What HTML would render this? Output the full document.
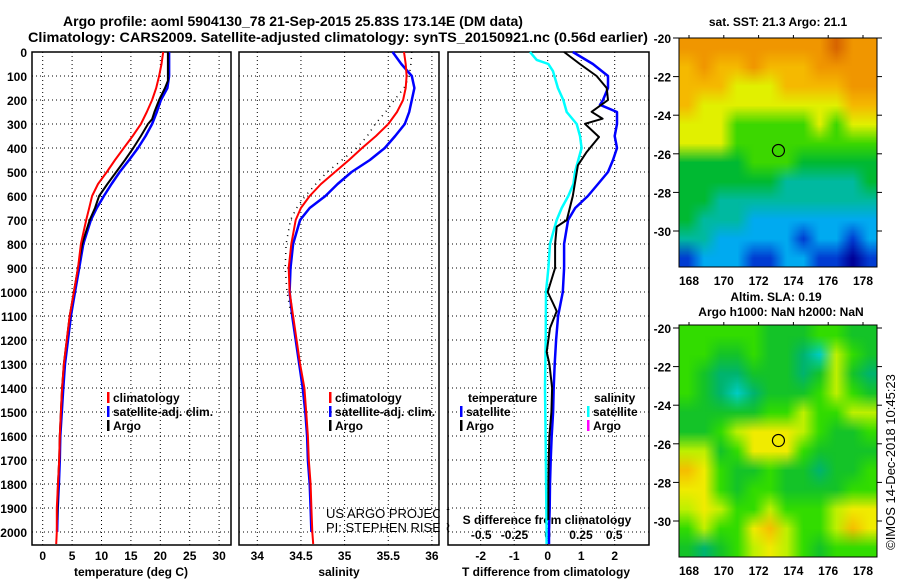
<!DOCTYPE html>
<html><head><meta charset="utf-8"><style>
body{margin:0;background:#fff;width:900px;height:580px;overflow:hidden;position:relative;font-family:"Liberation Sans",sans-serif}
canvas{position:absolute;image-rendering:auto}
svg{position:absolute;left:0;top:0}
text{font-family:"Liberation Sans",sans-serif;fill:#000}
</style></head><body>
<canvas id="sst" width="12" height="12" style="left:679px;top:38px;width:198px;height:229px"></canvas>
<canvas id="sla" width="12" height="12" style="left:679px;top:325px;width:198px;height:232px"></canvas>
<svg id="chart" width="900" height="580" font-weight="bold" font-size="12"></svg>
<script>
// ---- profile data ----
const depthClim = [0,50,100,150,200,250,300,350,400,450,500,550,600,650,700,800,900,1000,1100,1200,1300,1400,1500,1600,1700,1800,1900,2000,2050];
const tempClim = [20.5,20.2,19.8,19.3,18.6,17.7,16.7,15.3,13.8,12.3,10.9,9.4,8.4,7.9,7.4,6.5,6.0,5.3,4.6,4.1,3.6,3.3,3.1,2.9,2.8,2.6,2.4,2.4,2.3];
const depthSat = [0,50,100,150,200,250,300,350,400,450,500,550,600,650,700,800,900,1000,1100,1200,1300,1400,1500,1600,1700,1800,1900,2000];
const tempSat = [21.5,21.5,21.5,21.2,20.1,19.4,18.6,17.5,16.2,14.7,13.1,11.7,10.4,9.2,8.2,6.9,6.2,5.5,4.8,4.3,3.8,3.5,3.25,3.0,2.9,2.75,2.55,2.45];
const depthArgoT = [0,50,100,120,150,200,250,280,300,350,400,450,500,550,600,650,700,800,900,1000,1100,1200,1300,1400,1500,1600,1700,1800,1900,1950];
const tempArgo = [21.3,21.3,21.3,21.3,20.8,19.8,19.0,18.6,17.9,16.7,15.4,14.0,12.5,11.0,9.6,8.9,8.0,6.7,6.0,5.3,4.6,4.1,3.6,3.3,3.1,2.9,2.8,2.6,2.5,2.45];
const salClim = [35.68,35.70,35.71,35.70,35.67,35.60,35.50,35.36,35.20,35.05,34.89,34.73,34.60,34.50,34.44,34.39,34.36,34.37,34.41,34.45,34.49,34.54,34.56,34.58,34.59,34.61,34.62,34.63,34.64];
const salSat = [35.55,35.65,35.77,35.80,35.77,35.74,35.69,35.58,35.46,35.29,35.08,34.92,34.78,34.60,34.49,34.41,34.38,34.37,34.40,34.44,34.48,34.52,34.55,34.57,34.58,34.60,34.61,34.62];
const depthArgoS = [0,50,100,150,200,250,300,350,400,450,500,550,600,650,700,800,900,1000,1100];
const salArgo = [35.77,35.76,35.74,35.68,35.57,35.47,35.35,35.26,35.14,34.97,34.80,34.67,34.55,34.45,34.38,34.33,34.32,34.34,34.39];
const depthDT = [0,50,100,150,200,220,250,300,350,400,450,500,550,600,650,700,800,900,1000,1100,1200,1300,1400,1500,1600,1700,1800,1900,2000,2050];
const dTSat = [0.75,1.35,1.8,1.8,1.65,1.56,2.07,2.07,2.0,2.07,1.95,1.8,1.5,1.2,0.82,0.61,0.49,0.49,0.45,0.31,0.25,0.21,0.18,0.16,0.12,0.09,0.07,0.06,0.04,0.04];
const depthDTArgo = [0,50,100,150,200,249,278,299,354,417,472,600,700,728,800,900,1000,1050,1080,1150,1250,1300,1400,1500,1600,1700,1800,1950];
const dTArgo = [0.49,0.96,1.46,1.76,1.8,1.31,1.64,1.11,1.53,1.16,0.9,0.75,0.57,0.27,0.22,0.22,0.0,0.17,0.27,0.07,-0.03,0.05,0.13,0.11,0.05,0.03,0.02,0.02];
const depthDS = [0,33,50,80,150,200,250,300,350,400,450,500,550,600,650,700,750,800,900,1000,1200,1400,1600,1800,2000,2050];
const dSSat = [-0.133,-0.083,0.005,0.04,0.077,0.117,0.143,0.218,0.243,0.255,0.23,0.205,0.193,0.155,0.105,0.068,0.042,0.017,0.005,-0.013,-0.015,-0.02,-0.016,-0.012,-0.008,-0.008];
const depthTicks = [0,100,200,300,400,500,600,700,800,900,1000,1100,1200,1300,1400,1500,1600,1700,1800,1900,2000];
const tempTicks = [0,5,10,15,20,25,30];
const salTicks = [34,34.5,35,35.5,36];
const salTickLabels = ["34","34.5","35","35.5","36"];
const dTTicks = [-2,-1,0,1,2];
const dSTicks = [-0.5,-0.25,0,0.25,0.5];
const dSTickLabels = ["-0.5","-0.25","0","0.25","0.5"];
// ---- map data ----
const latTicks = [-20,-22,-24,-26,-28,-30];
const lonTicks = [168,170,172,174,176,178];
const argoLon = [173.14];
const argoLat = [-25.83];
const sstRows = [
[7,7,7,7,7,7,7,7,7,8,7,7],[6,7,6,6,7,6,6,6,7,7,7,7],[6,6,6,5,5,5,6,6,6,6,7,7],
[6,5,5,5,5,5,5,5,5,5,6,6],[5,5,5,4,4,4,4,4,5,4,5,5],[5,5,5,4,4,4,4,4,4,4,4,4],
[3,3,3,3,4,4,4,3,3,3,3,3],[3,3,3,3,3,3,2,2,2,2,2,3],[3,3,2,2,2,2,2,2,2,2,2,2],
[3,2,2,2,1,1,1,1,1,1,1,1],[2,2,1,1,1,1,1,0,1,1,0,1],[0,1,1,1,0,0,1,1,0,0,-1,0]];
const slaRows = [
[3,3,3,3,3,2,2,2,3,3,2,2],[3,3,2,2,3,2,2,1,0,4,3,2],[3,2,1,1,2,2,2,1,2,4,2,1],
[3,2,1,0,1,2,2,2,3,4,3,2],[2,2,2,2,2,3,3,4,3,3,4,4],[2,2,3,4,5,5,5,4,3,2,2,3],
[4,4,2,3,5,5,5,3,2,2,2,2],[6,5,3,2,2,3,2,2,1,2,2,3],[5,5,3,2,3,3,2,2,2,2,3,3],
[4,5,4,3,3,4,3,3,3,4,5,5],[3,4,3,3,5,6,4,3,3,4,6,5],[2,1,2,3,4,5,4,3,2,3,3,3]];

const sstColors = {"-1":[0,0,150],"0":[0,60,210],"1":[0,170,240],"2":[0,185,160],"3":[0,185,50],"4":[60,215,0],"5":[225,240,0],"6":[245,185,0],"7":[240,150,0],"8":[215,100,0]};
const slaColors = {"0":[0,205,195],"1":[0,180,110],"2":[20,195,40],"3":[50,220,0],"4":[190,240,0],"5":[240,235,0],"6":[245,190,0]};
function paint(id, rows, cols){
  const c=document.getElementById(id), ctx=c.getContext('2d'), img=ctx.createImageData(12,12);
  rows.forEach((r,j)=>r.forEach((v,i)=>{const col=cols[String(v)];const k=(j*12+i)*4;img.data[k]=col[0];img.data[k+1]=col[1];img.data[k+2]=col[2];img.data[k+3]=255;}));
  ctx.putImageData(img,0,0);
}
paint('sst',sstRows,sstColors);
paint('sla',slaRows,slaColors);

const NS='http://www.w3.org/2000/svg';
const svg=document.getElementById('chart');
function el(tag,attrs,parent){const e=document.createElementNS(NS,tag);for(const k in attrs)e.setAttribute(k,attrs[k]);(parent||svg).appendChild(e);return e;}
function txt(x,y,s,anchor,extra){const t=el('text',Object.assign({x:x,y:y,'text-anchor':anchor||'start'},extra||{}));t.textContent=s;return t;}

const TOP=52, BOT=545;
const yD=d=>TOP+0.24*d;
const xT=t=>42.7+5.88*t;
const xS=s=>257.3+87.3*(s-34);
const xDT=v=>547.7+33.5*v;
const xDS=v=>547.7+133*v;
const panels=[[32,231,tempTicks.map(xT)],[239,439,salTicks.map(xS)],[448,649,dTTicks.map(xDT)]];

let t=txt(293,26,"Argo profile: aoml 5904130_78 21-Sep-2015 25.83S 173.14E (DM data)",'middle',{'font-size':14});


t=txt(338,42,"Climatology: CARS2009. Satellite-adjusted climatology: synTS_20150921.nc (0.56d earlier)",'middle',{'font-size':14,textLength:620,lengthAdjust:'spacingAndGlyphs'});



panels.forEach((p,i)=>{
  const g=el('g',{});
  
  
  depthTicks.forEach(d=>{if(d>0){const l=el('line',{x1:p[0],x2:p[1],y1:yD(d),y2:yD(d),stroke:'#000','stroke-dasharray':'1,3'},g);}});
  p[2].forEach(x=>{const l=el('line',{x1:x,x2:x,y1:TOP,y2:BOT,stroke:'#000','stroke-dasharray':'1,3'},g);});
  const r=el('rect',{x:p[0],y:TOP,width:p[1]-p[0],height:BOT-TOP,fill:'none',stroke:'#000','stroke-width':1.5},g);
  
  
});
depthTicks.forEach(d=>{const l=txt(27,yD(d)+5,String(d),'end');});
tempTicks.forEach(v=>{const l=txt(xT(v),560,String(v),'middle');});
salTicks.forEach((v,i)=>{const l=txt(xS(v),560,salTickLabels[i],'middle');});
dTTicks.forEach(v=>{const l=txt(xDT(v),560,String(v),'middle');});
dSTicks.forEach((v,i)=>{const l=txt(xDS(v),539,dSTickLabels[i],'middle');});
t=txt(131,576,"temperature (deg C)",'middle');
t=txt(339,576,"salinity",'middle');
t=txt(546,576,"T difference from climatology",'middle');
t=txt(547,524,"S difference from climatology",'middle');

function series(xs,ds,fx,color,w,name,dash){
  const pts=xs.map((v,i)=>fx(v).toFixed(1)+','+yD(ds[i]).toFixed(1)).join(' ');
  const a={points:pts,fill:'none',stroke:color,'stroke-width':w,'stroke-linejoin':'round'};
  if(dash)a['stroke-dasharray']=dash;
  const l=el('polyline',a);
  
  
}
series(tempSat,depthSat,xT,'#0000ff',2.5,'temp-satellite-line');
series(tempArgo,depthArgoT,xT,'#000',2,'temp-argo-line');
series(tempClim,depthClim,xT,'#ff0000',2,'temp-climatology-line');
series(salSat,depthSat,xS,'#0000ff',2.5,'sal-satellite-line');
series(salArgo,depthArgoS,xS,'#000',1.5,'sal-argo-line','1,5');
series(salClim,depthClim,xS,'#ff0000',2,'sal-climatology-line');
series(dSSat,depthDS,xDS,'#00ffff',2.5,'sdiff-satellite-line');
series(dTSat,depthDT,xDT,'#0000ff',2.5,'tdiff-satellite-line');
series(dTArgo,depthDTArgo,xDT,'#000',2,'tdiff-argo-line');

function legend(x,y,color,label,name){
  const g=el('g',{});
  
  
  el('rect',{x:x,y:y-10,width:2.5,height:11,fill:color},g);
  const tt=el('text',{x:x+6,y:y},g);tt.textContent=label;
}
legend(107,402,'#ff0000','climatology','legend-climatology-temp');
legend(107,416,'#0000ff','satellite-adj. clim.','legend-satellite-temp');
legend(107,430,'#000','Argo','legend-argo-temp');
legend(329,402,'#ff0000','climatology','legend-climatology-sal');
legend(329,416,'#0000ff','satellite-adj. clim.','legend-satellite-sal');
legend(329,430,'#000','Argo','legend-argo-sal');
t=txt(468,402,"temperature");
legend(460,416,'#0000ff','satellite','legend-tdiff-satellite');
legend(460,430,'#000','Argo','legend-tdiff-argo');
t=txt(594,402,"salinity");
legend(587,416,'#00ffff','satellite','legend-sdiff-satellite');
legend(587,430,'#ff00ff','Argo','legend-sdiff-argo');
t=txt(326,518,"US ARGO PROJECT",'start',{'font-weight':'normal','font-size':13});
t=txt(326,532,"PI: STEPHEN RISER",'start',{'font-weight':'normal','font-size':13});
el('rect',{x:439.8,y:500,width:7,height:40,fill:'#fff'});

const lonX=lon=>689+17.4*(lon-168);
function mapAxes(y0,yTop,yBot,name){
  const latY=lat=>y0+19.3*(-20-lat);
  const g=el('g',{});
  
  
  el('rect',{x:679,y:yTop,width:198,height:yBot-yTop,fill:'none',stroke:'#000','stroke-width':1},g);
  latTicks.forEach(v=>{const y=latY(v);el('line',{x1:679,x2:673,y1:y,y2:y,stroke:'#000'},g);el('line',{x1:877,x2:882,y1:y,y2:y,stroke:'#000'},g);const tt=el('text',{x:671,y:y+5,'text-anchor':'end'},g);tt.textContent=String(v);});
  lonTicks.forEach(v=>{const x=lonX(v);el('line',{x1:x,x2:x,y1:yTop,y2:yTop-3,stroke:'#000'},g);const tt=el('text',{x:x,y:yBot+18,'text-anchor':'middle'},g);tt.textContent=String(v);});
  argoLon.forEach((lo,i)=>{const c=el('circle',{cx:lonX(lo),cy:latY(argoLat[i]),r:6,fill:'none',stroke:'#000','stroke-width':1.2},g);});
}
mapAxes(38,38,267,'sst-map-axes');
mapAxes(328,325,557,'sla-map-axes');
t=txt(778,26,"sat. SST: 21.3 Argo: 21.1",'middle');
t=txt(776,301,"Altim. SLA: 0.19",'middle');
t=txt(781,316,"Argo h1000: NaN h2000: NaN",'middle');
t=txt(0,0,"©IMOS 14-Dec-2018 10:45:23",'middle',{transform:'translate(895,462) rotate(-90)','font-weight':'normal','font-size':13});


</script>
</body></html>
